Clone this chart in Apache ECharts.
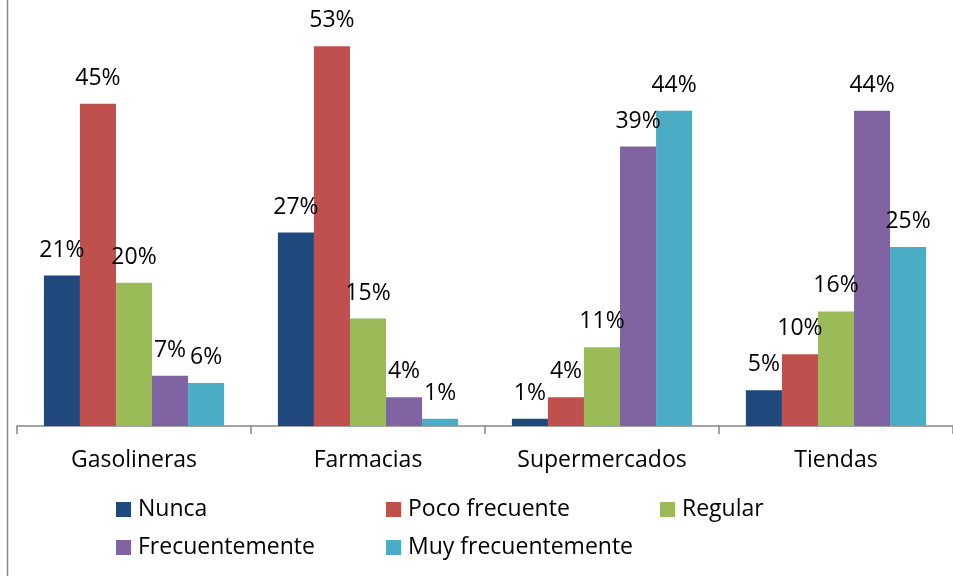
<!DOCTYPE html>
<html><head><meta charset="utf-8">
<script src="https://cdn.jsdelivr.net/npm/echarts@6/dist/echarts.min.js"></script>
<style>html,body{margin:0;padding:0;background:#fff}#c{width:953px;height:576px}</style>
</head><body><div id="c"></div>
<script>
const categories = ['Gasolineras', 'Farmacias', 'Supermercados', 'Tiendas'];
const seriesNames = ['Nunca', 'Poco frecuente', 'Regular', 'Frecuentemente', 'Muy frecuentemente'];
const nunca = [21, 27, 1, 5];
const pocoFrecuente = [45, 53, 4, 10];
const regular = [20, 15, 11, 16];
const frecuentemente = [7, 4, 39, 44];
const muyFrecuentemente = [6, 1, 44, 25];
const colors = ['#1F497D', '#C0504D', '#9BBB59', '#8064A2', '#4BACC6'];

const values = [nunca, pocoFrecuente, regular, frecuentemente, muyFrecuentemente];
const font = '"Open Sans", sans-serif';
const fs = 23;

const chart = echarts.init(document.getElementById('c'));
const legendPos = [[111, 493], [381, 493], [655, 493], [111, 531], [381, 531]];
chart.setOption({
  backgroundColor: '#fff',
  animation: false,
  grid: { left: 17, width: 940, top: 32, bottom: 150 },
  xAxis: {
    type: 'category', data: categories,
    axisLine: { lineStyle: { color: '#868686', width: 1.5 } },
    axisTick: { show: true, length: 8, lineStyle: { color: '#868686', width: 1.5 } },
    axisLabel: { color: '#000', fontSize: fs, fontFamily: font, margin: 23 }
  },
  yAxis: { type: 'value', min: 0, max: 55, show: false, splitLine: { show: false } },
  legend: legendPos.map((p, i) => ({
    data: [seriesNames[i]], left: p[0], top: p[1],
    icon: 'rect', itemWidth: 15, itemHeight: 15, itemGap: 0,
    textStyle: { color: '#000', fontSize: fs, fontFamily: font, padding: [0, 0, 0, 2] }
  })),
  graphic: [{ type: 'line', shape: { x1: 7.5, y1: 0, x2: 7.5, y2: 576 }, style: { stroke: '#868686', lineWidth: 1.5 } }],
  series: seriesNames.map((n, i) => ({
    name: n, type: 'bar', data: values[i],
    barGap: '0%', barCategoryGap: '23%',
    itemStyle: { color: colors[i] },
    label: { show: true, position: 'top', distance: 14, formatter: '{c}%', color: '#000', fontSize: fs, fontFamily: font }
  }))
});
</script></body></html>
